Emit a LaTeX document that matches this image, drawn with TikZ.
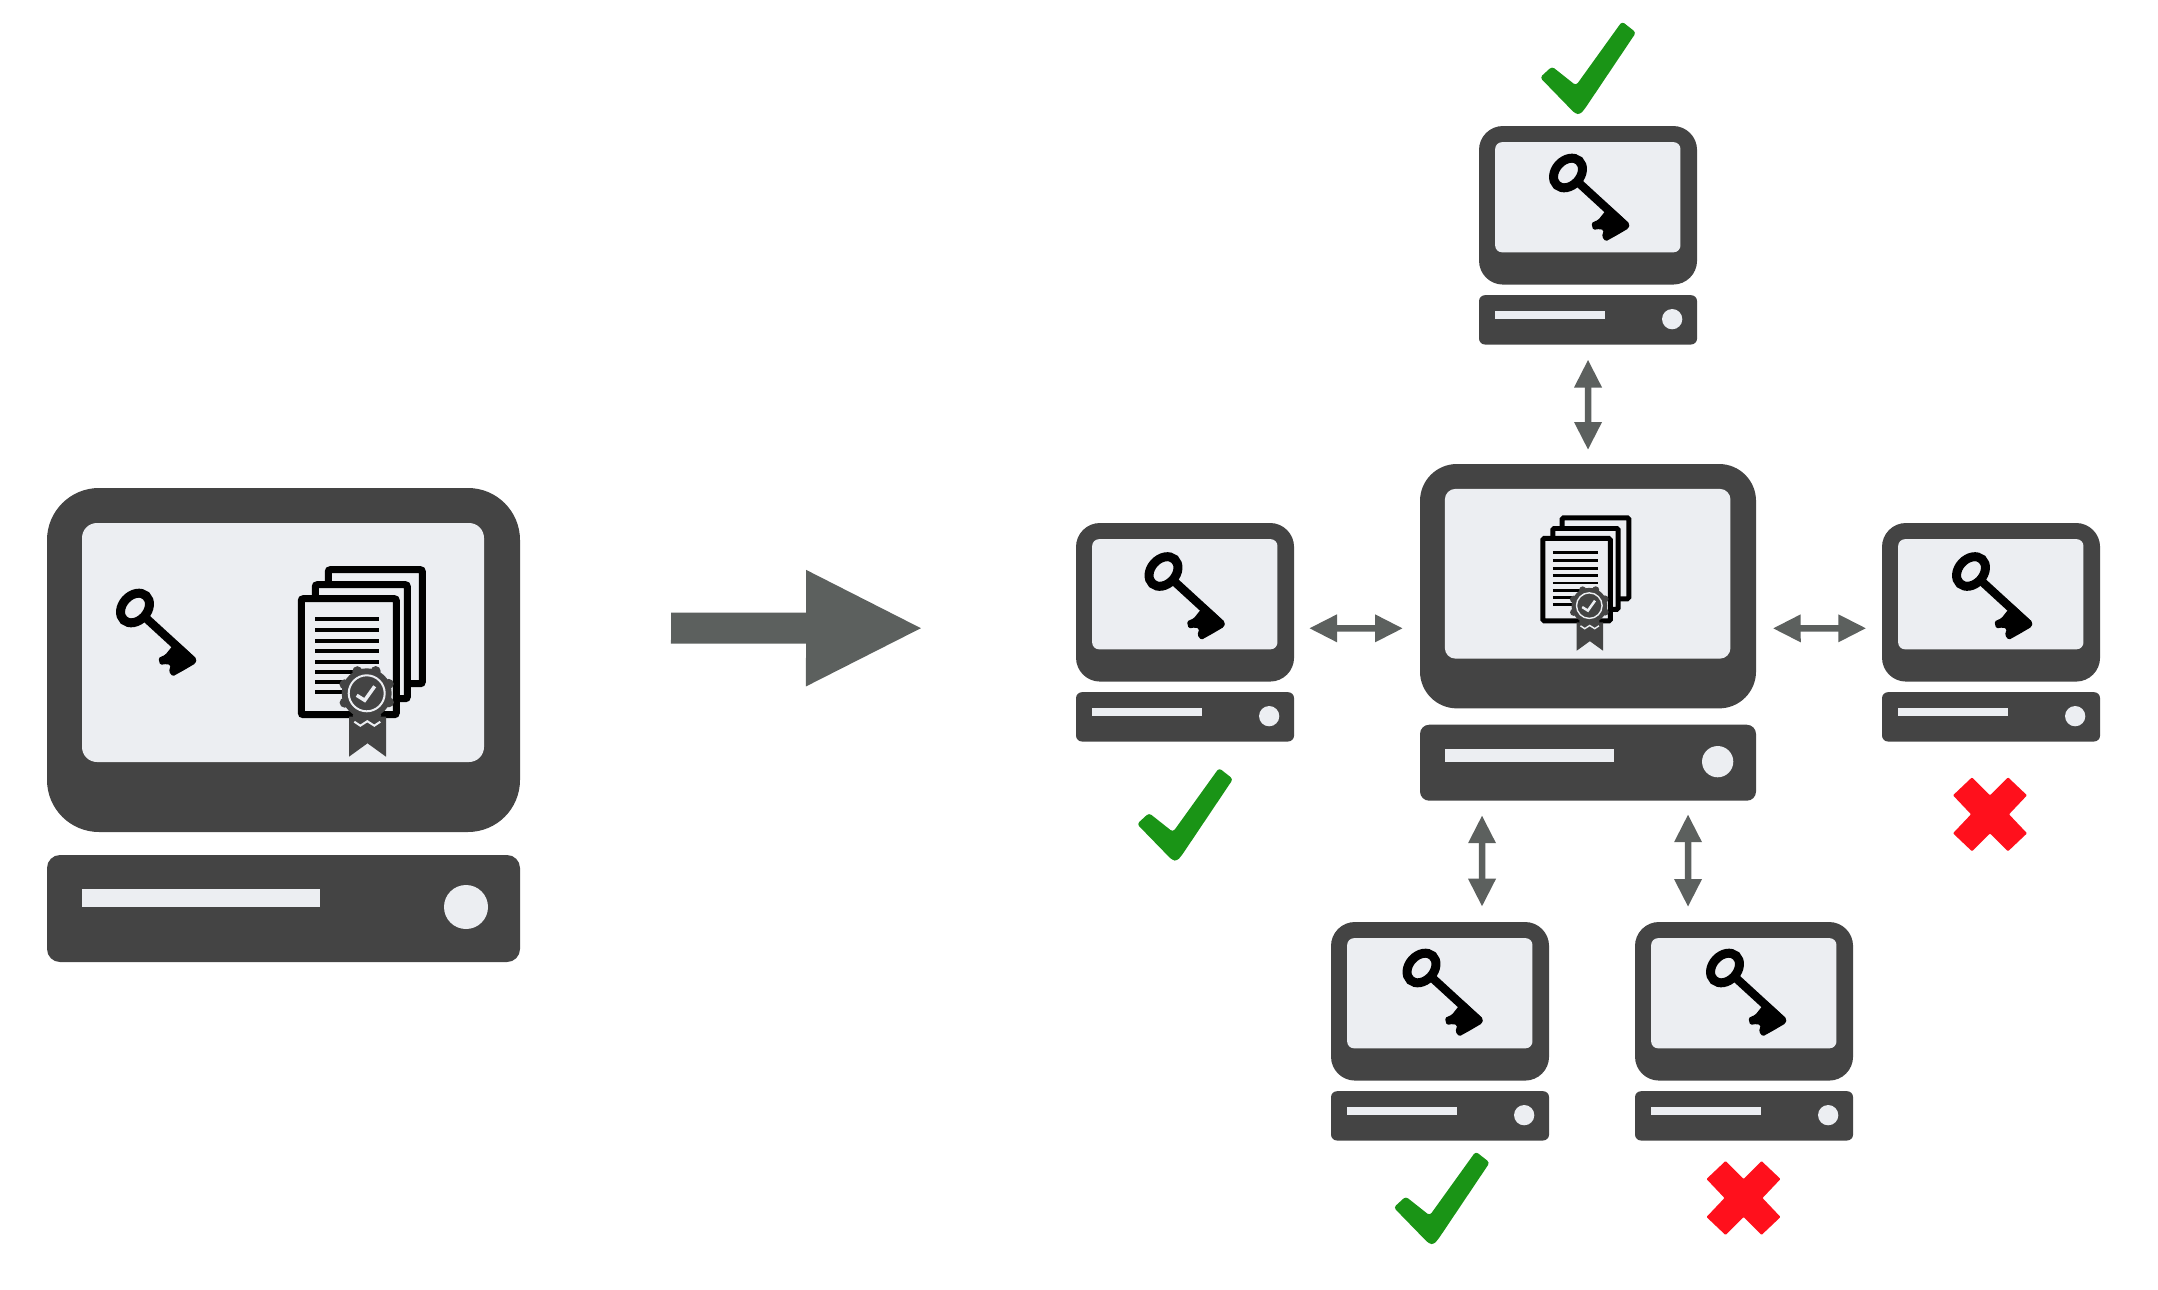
\documentclass[tikz,border=0pt]{standalone}
\usetikzlibrary{arrows.meta,calc}
\definecolor{casing}{HTML}{444444}
\definecolor{glass}{HTML}{ECEEF2}
\definecolor{arrowgrey}{HTML}{5C605E}
\definecolor{okgreen}{HTML}{1A9416}
\definecolor{nored}{HTML}{FF101C}
\tikzset{
  compbox/.style={inner sep=0pt,outer sep=0pt,anchor=north west,draw=none},
  casingfill/.style={fill=casing,draw=none},
  glassfill/.style={fill=glass,draw=none},
  twoway/.style={draw=arrowgrey,line width=6.5pt,
    {Triangle[length=28pt,width=26pt]}-{Triangle[length=28pt,width=26pt]}},
  bigarrow/.style={draw=arrowgrey,line width=31pt,-{Triangle[length=118pt,width=107pt]}},
  okshape/.style={fill=okgreen,draw=none,rounded corners=3pt},
  noshape/.style={fill=nored,draw=none,rounded corners=1pt},
}
% name, x, y, scale
\newcommand{\CompIcon}[4]{%
  \pgfmathsetmacro{\cw}{473*#4}%
  \pgfmathsetmacro{\ch}{474*#4}%
  \node[compbox,minimum width=\cw pt,minimum height=\ch pt] (#1) at (#2,#3) {};
  \begin{scope}[shift={(#2,#3)},scale=#4]
    \pgfmathsetmacro{\ra}{52*#4}%
    \pgfmathsetmacro{\rb}{15*#4}%
    \pgfmathsetmacro{\rc}{13*#4}%
    \fill[casingfill,rounded corners=\ra pt] (0,0) rectangle (473,344);
    \fill[glassfill,rounded corners=\rb pt] (35,35) rectangle (437,274);
    \fill[casingfill,rounded corners=\rc pt] (0,367) rectangle (473,474);
    \fill[glassfill] (35,401) rectangle (273,419);
    \fill[glassfill] (419,419) circle[radius=22];
  \end{scope}
}
% x, y of the centre of the bow
\newcommand{\KeyIcon}[2]{%
  \begin{scope}[shift={(#1,#2)},rotate=-42.5]
    \draw[black,line width=9pt] (0,0) ellipse[x radius=12.5,y radius=16.5];
    \draw[black,line width=8.5pt] (12,0) -- (78,0);
    \fill[black,rounded corners=1.5pt] (53,0) -- (54,14) -- (51,21) -- (57,25) -- (61,20)
      -- (65,18) -- (68,24) -- (74,25) -- (78,13) -- (82,0) -- (80,-4) -- (53,-4) -- cycle;
  \end{scope}
}
% x, y of the top left corner, scale
\newcommand{\DocIcon}[3]{%
  \begin{scope}[shift={(#1,#2)},scale=#3]
    \pgfmathsetmacro{\dr}{2*#3}%
    \begin{scope}[line width=#3*7pt,draw=black,fill=glass,rounded corners=\dr pt]
      \filldraw (30,3) rectangle (124,117);
      \filldraw (17,18) rectangle (109,132);
      \filldraw (3,32) rectangle (98,148);
    \end{scope}
    \foreach \ly in {52,63,74,84,95,105,115,125}
      \draw[black,line width=#3*3.6pt] (17,\ly) -- (81,\ly);
    \fill[casing] (50.7,150) -- (87.7,150) -- (87.7,190) -- (69.2,176.6) -- (50.7,190) -- cycle;
    \fill[casing] (68.4,126.6) circle[radius=25];
    \foreach \ga in {0,45,...,315}
      \fill[casing] ($(68.4,126.6)+(\ga+22:24)$) circle[radius=5];
    \draw[glass,line width=#3*2pt] (68.4,126.6) circle[radius=18];
    \draw[glass,line width=#3*3.5pt] (58.4,128.6) -- (66.4,133.6) -- (76.4,119.6);
    \draw[glass,line width=#3*2pt] (56,155) -- (62,159) -- (69,154.5) -- (76,159) -- (82,155);
  \end{scope}
}
% x, y of the lower vertex
\newcommand{\OkMark}[2]{%
  \fill[okshape,shift={(#1,#2)}] (-38,-35) -- (-26,-46) -- (-2,-27) -- (44,-91) -- (58,-80)
    -- (7,-4) -- (2,2) -- (-3,1) -- cycle;
}
% x, y of the centre
\newcommand{\NoMark}[2]{%
  \fill[noshape,shift={(#1,#2)}] (-18,-37) -- (0,-19) -- (18,-37) -- (37,-19) -- (19,0) -- (37,19)
    -- (18,37) -- (0,19) -- (-18,37) -- (-37,19) -- (-19,0) -- (-37,-19) -- cycle;
}
\begin{document}
\begin{tikzpicture}[x=1pt,y=-1pt]
  \fill[white] (0,0) rectangle (2158,1290);
  \useasboundingbox (0,0) rectangle (2158,1290);

  \CompIcon{big}{47}{488}{1}
  \CompIcon{center}{1420}{464}{0.7104}
  \CompIcon{top}{1479}{126}{0.461}
  \CompIcon{left}{1076}{523}{0.461}
  \CompIcon{right}{1882}{523}{0.461}
  \CompIcon{botleft}{1331}{922}{0.461}
  \CompIcon{botright}{1635}{922}{0.461}

  \KeyIcon{135}{608}
  \KeyIcon{1568}{173}
  \KeyIcon{1163.5}{571.5}
  \KeyIcon{1971}{571.5}
  \KeyIcon{1421.5}{968}
  \KeyIcon{1725}{968}

  \DocIcon{298.3}{566.7}{1}
  \DocIcon{1540.7}{515.7}{0.7104}

  \draw[bigarrow,shorten <=151pt,shorten >=152pt] ([yshift=97pt]big.east) -- ([yshift=4pt]left.west);
  \draw[twoway,shorten <=15pt,shorten >=14pt] (top.south) -- (center.north);
  \draw[twoway,shorten <=15pt,shorten >=17pt] ([yshift=4pt]left.east) -- ([yshift=4pt]center.west);
  \draw[twoway,shorten <=16.7pt,shorten >=15.7pt] ([yshift=4pt]center.east) -- ([yshift=4pt]right.west);
  \draw[twoway,shorten <=14.5pt,shorten >=15.3pt] ([xshift=-106pt]center.south) -- ([xshift=42pt]botleft.north);
  \draw[twoway,shorten <=13.5pt,shorten >=15pt] ([xshift=100pt]center.south) -- ([xshift=-56pt]botright.north);

  \OkMark{1578}{112.5}
  \OkMark{1175}{859}
  \OkMark{1431.7}{1242.5}
  \NoMark{1990}{814.3}
  \NoMark{1743.5}{1198}
\end{tikzpicture}
\end{document}
